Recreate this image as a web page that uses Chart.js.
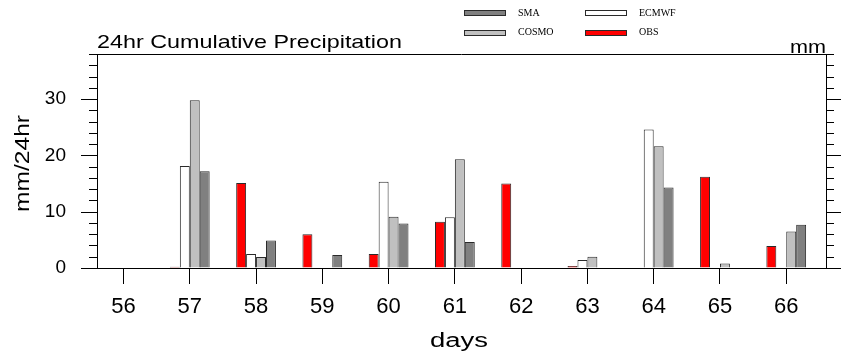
<!DOCTYPE html>
<html><head><meta charset="utf-8">
<script src="https://cdn.jsdelivr.net/npm/chart.js@4"></script>
<style>html,body{margin:0;padding:0;background:#fff;overflow:hidden}canvas{display:block}</style>
</head><body>
<canvas id="c" width="841" height="352"></canvas>
<script>
// ---- data ----
const days  = [56, 57, 58, 59, 60, 61, 62, 63, 64, 65, 66];
const obs   = [0, 0.2, 15.1, 6.0, 2.5, 8.2, 15.0, 0.35, 0, 16.2, 3.9];
const ecmwf = [0, 18.1, 2.5, 0, 15.3, 9.0, 0, 1.4, 24.6, 0, 0];
const cosmo = [0, 29.8, 1.95, 0, 9.1, 19.3, 0, 2.0, 21.6, 0.8, 6.5];
const sma   = [0, 17.2, 4.9, 2.3, 7.9, 4.6, 0, 0, 14.3, 0, 7.7];
const yTickLabels = ['0', '10', '20', '30'];
const yMinorTicks = [0, 2, 4, 6, 8, 10, 12, 14, 16, 18, 20, 22, 24, 26, 28, 30, 32, 34, 36, 38];
const titleText = '24hr Cumulative Precipitation';
const unitsText = 'mm';
const yTitleText = 'mm/24hr';
const xTitleText = 'days';

const EDGE = '#2a2a2a';
const pts = arr => days.map((d, i) => ({x: d, y: arr[i]}));

const datasets = [
  {label: 'OBS',   data: pts(obs),   backgroundColor: '#ff0000'},
  {label: 'ECMWF', data: pts(ecmwf), backgroundColor: '#ffffff'},
  {label: 'COSMO', data: pts(cosmo), backgroundColor: '#c0c0c0'},
  {label: 'SMA',   data: pts(sma),   backgroundColor: '#808080'}
].map(d => Object.assign(d, {borderColor: EDGE, borderWidth: 1, borderSkipped: 'start',
  categoryPercentage: 0.6, barPercentage: 1.0}));

// legend layout: [label, col, row]
const legendOrder = [['SMA', 0, 0], ['ECMWF', 1, 0], ['COSMO', 0, 1], ['OBS', 1, 1]];

function stretchText(ctx, text, x, y, font, width, align, rot) {
  ctx.save();
  ctx.font = font;
  const w = ctx.measureText(text).width;
  ctx.translate(x, y);
  if (rot) ctx.rotate(rot);
  ctx.scale(width / w, 1);
  ctx.textAlign = align;
  ctx.textBaseline = 'alphabetic';
  ctx.fillStyle = '#000';
  ctx.fillText(text, 0, 0);
  ctx.restore();
}

const decor = {
  id: 'decor',
  afterDraw(chart) {
    const ctx = chart.ctx;
    const ca = chart.chartArea;
    const ys = chart.scales.y;
    ctx.save();
    ctx.strokeStyle = '#000';
    ctx.lineWidth = 1;
    // top frame line
    ctx.beginPath();
    ctx.moveTo(ca.left, Math.round(ca.top) + 0.5);
    ctx.lineTo(ca.right, Math.round(ca.top) + 0.5);
    ctx.stroke();
    // y ticks (major / minor), left and right, outward
    ys.ticks.forEach(t => {
      const py = Math.round(ys.getPixelForValue(t.value)) + 0.5;
      const major = yTickLabels.includes(String(t.value));
      const L = major ? 16 : 8;
      ctx.beginPath();
      ctx.moveTo(ca.left - L, py); ctx.lineTo(ca.left, py);
      ctx.moveTo(ca.right, py); ctx.lineTo(ca.right + L, py);
      ctx.stroke();
    });
    ctx.restore();

    // titles
    stretchText(ctx, titleText, 97, 48, '19px "Liberation Sans"', 305, 'left');
    stretchText(ctx, unitsText, 826, 53, '19px "Liberation Sans"', 36, 'right');
    stretchText(ctx, yTitleText, 28.5, 163.5, '19.5px "Liberation Sans"', 97, 'center', -Math.PI / 2);
    stretchText(ctx, xTitleText, 459, 347, '19.5px "Liberation Sans"', 58, 'center');

    // legend
    const boxX = [464, 585], txtX = [518, 639], rowY = [12.5, 32.2];
    ctx.save();
    ctx.font = '10px "Liberation Serif"';
    ctx.textBaseline = 'middle';
    ctx.textAlign = 'left';
    legendOrder.forEach(([lab, c, r]) => {
      const ds = chart.data.datasets.find(d => d.label === lab);
      const y0 = Math.round(rowY[r] - 2.5) + 0.5;
      ctx.fillStyle = ds.backgroundColor;
      ctx.fillRect(boxX[c] + 0.5, y0, 41, 5);
      ctx.strokeStyle = EDGE;
      ctx.lineWidth = 1;
      ctx.strokeRect(boxX[c] + 0.5, y0, 41, 5);
      ctx.fillStyle = '#000';
      ctx.fillText(lab, txtX[c], rowY[r] + 0.5);
    });
    ctx.restore();
  }
};

new Chart(document.getElementById('c'), {
  type: 'bar',
  data: {datasets},
  options: {
    responsive: false,
    animation: false,
    devicePixelRatio: 1,
    layout: {padding: {top: 54, left: 0, right: 0, bottom: 0}},
    plugins: {legend: {display: false}, tooltip: {enabled: false}, title: {display: false}},
    scales: {
      x: {
        type: 'linear', position: 'bottom', min: 55.6, max: 66.6, offset: false,
        afterBuildTicks: s => { s.ticks = days.map(v => ({value: v})); },
        ticks: {autoSkip: false, maxRotation: 0, color: '#000', padding: 10,
          font: {family: '"Liberation Sans"', size: 22},
          callback: v => String(v)},
        grid: {offset: false, drawOnChartArea: false, drawTicks: true, tickLength: 16, tickColor: '#000', tickWidth: 1},
        border: {display: true, color: '#000', width: 1},
        afterFit: s => { s.height = 84; }
      },
      y: {
        type: 'linear', position: 'left', min: 0, max: 38,
        afterBuildTicks: s => { s.ticks = yMinorTicks.map(v => ({value: v})); },
        ticks: {autoSkip: false, color: '#000', padding: 31,
          font: {family: '"Liberation Sans"', size: 19},
          callback: v => (yTickLabels.includes(String(v)) ? String(v) : '')},
        grid: {drawOnChartArea: false, drawTicks: false},
        border: {display: true, color: '#000', width: 1},
        afterFit: s => { s.width = 97; }
      },
      y2: {
        type: 'linear', position: 'right', min: 0, max: 38,
        ticks: {display: false},
        grid: {drawOnChartArea: false, drawTicks: false},
        border: {display: true, color: '#000', width: 1},
        afterFit: s => { s.width = 15; }
      }
    }
  },
  plugins: [decor]
});
</script>
</body></html>
